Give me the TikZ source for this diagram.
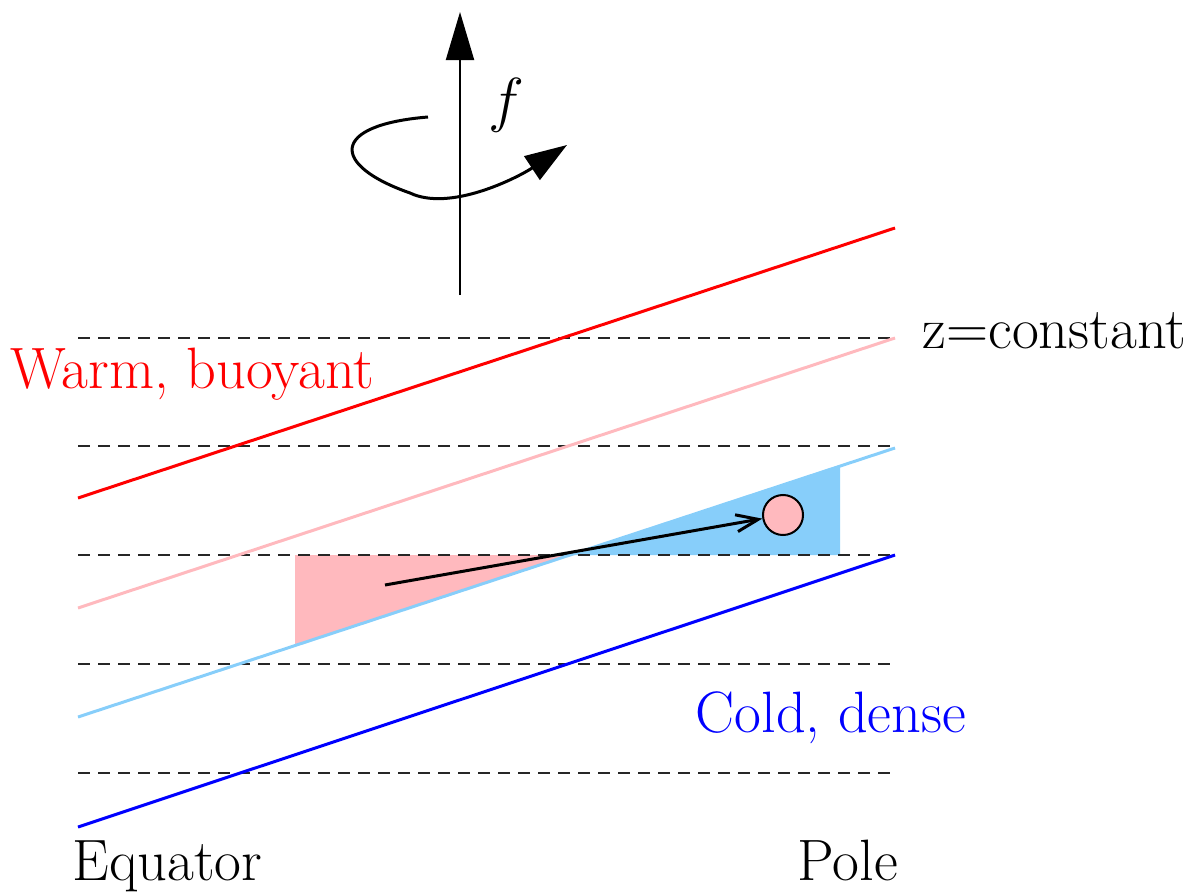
\documentclass[tikz,border=0pt]{standalone}
\usetikzlibrary{arrows.meta}
\definecolor{warmpink}{RGB}{255,185,190}
\definecolor{coldsky}{RGB}{135,206,250}

\begin{document}
\begin{tikzpicture}[x=0.01cm, y=-0.01cm,
  level/.style={dash pattern=on 0.12cm off 0.08cm, line width=0.02cm, black!85},
  iso/.style={line width=0.03cm},
  lbl/.style={anchor=base west, inner sep=0pt, font=\fontsize{16.6}{19}\selectfont}]
\useasboundingbox (0,0) rectangle (1188,894);
\fill[warmpink] (295,555) -- (295,645) -- (568,555) -- cycle;
\fill[coldsky] (568,555) -- (840,465) -- (840,555) -- cycle;
\foreach \y in {338,446,555,664,773}
  \draw[level] (78,\y) -- (895,\y);
\draw[iso, red] (78,498) -- (895,228);
\draw[iso, warmpink] (78,608) -- (895,338);
\draw[iso, coldsky] (78,717) -- (895,448);
\draw[iso, blue] (78,827) -- (895,555);
% rotation axis
\coordinate (base) at (460,295);
\coordinate (top) at (460,12);
\draw[line width=0.02cm, -{Triangle[length=0.48cm,width=0.28cm]}] (base) -- (top);
\coordinate (spinstart) at (428,117);
\coordinate (spinend) at (567,145);
\draw[line width=0.03cm, -{Triangle[length=0.42cm,width=0.28cm]}] (spinstart)
  .. controls (330,125) and (330,165) .. (410,193)
  .. controls (450,212) and (517,178) .. (spinend);
\node[anchor=base west, inner sep=0pt, font=\fontsize{19}{22}\selectfont] (rate) at (488,121) {$f$};
% parcel
\node[circle, draw, fill=warmpink, line width=0.02cm, minimum size=0.4cm, inner sep=0pt] (parcel) at (783,515) {};
\coordinate (launch) at (385,585);
\draw[line width=0.03cm, -{Straight Barb[length=0.22cm,width=0.17cm]}] (launch) -- (parcel);
\node[lbl, red] (warm) at (10,388) {Warm, buoyant};
\node[lbl, blue] (cold) at (695,732) {Cold, dense};
\node[lbl] (zconst) at (922,348) {z=constant};
\node[lbl] (equator) at (72,880) {Equator};
\node[lbl] (pole) at (797,880) {Pole};
\end{tikzpicture}
\end{document}
